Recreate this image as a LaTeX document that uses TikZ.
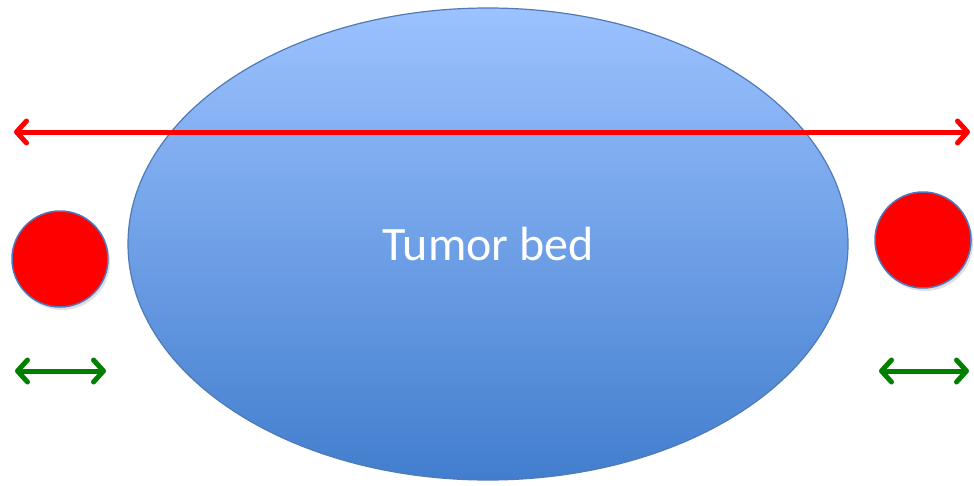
\documentclass[tikz,border=0pt]{standalone}
\usepackage{fontspec}
\setmainfont{Carlito}
\usetikzlibrary{arrows.meta,shapes.geometric,shadows}
\definecolor{bedtop}{RGB}{156,194,255}
\definecolor{bedbot}{RGB}{66,126,206}
\definecolor{bedline}{RGB}{80,122,182}
\definecolor{dotred}{RGB}{255,0,0}
\definecolor{dotline}{RGB}{80,120,190}
\definecolor{arrgreen}{RGB}{0,128,0}
\tikzset{
  bed/.style={ellipse, draw=bedline, line width=1.2pt, minimum width=720pt, minimum height=472pt, inner sep=0pt, top color=bedtop, bottom color=bedbot, text=white, font=\fontsize{48}{56}\selectfont},
  dot/.style={circle, draw=dotline, line width=1.5pt, fill=dotred, minimum size=96pt, inner sep=0pt, drop shadow={shadow xshift=2pt, shadow yshift=-3pt, opacity=0.25}},
  dbl/.style={line width=5pt, {Straight Barb[length=10pt,width=22pt,line cap=round,line join=round]}-{Straight Barb[length=10pt,width=22pt,line cap=round,line join=round]}},
}
\begin{document}
\begin{tikzpicture}[x=1pt,y=-1pt]
\useasboundingbox (0,0) rectangle (974,485);
\node[bed] (tb) at (488,244) {Tumor bed};
\node[dot] (c1) at (60,259) {};
\node[dot] (c2) at (923,240) {};
\coordinate (rl) at (14,132);
\coordinate (rr) at (970,132);
\draw[dbl, draw=dotred] (rl) -- (rr);
\coordinate (gl1) at (15,371);
\coordinate (gr1) at (106,371);
\coordinate (gl2) at (879,371);
\coordinate (gr2) at (969,371);
\draw[dbl, draw=arrgreen] (gl1) -- (gr1);
\draw[dbl, draw=arrgreen] (gl2) -- (gr2);
\end{tikzpicture}
\end{document}
